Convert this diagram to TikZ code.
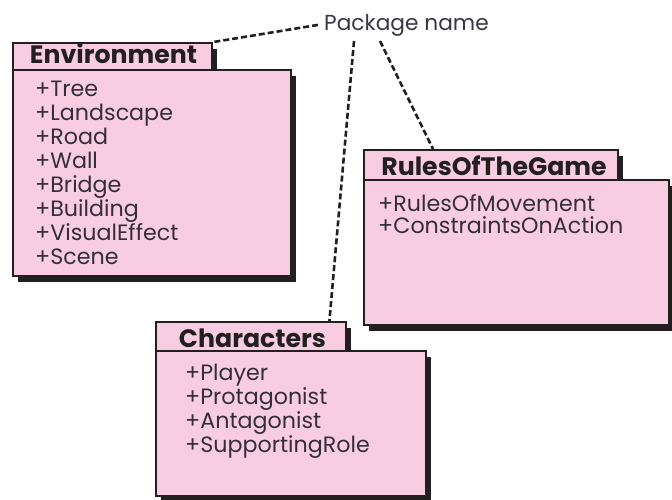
\documentclass[tikz,border=0pt]{standalone}
\usepackage{fontspec}
\setmainfont{Poppins}
\usetikzlibrary{shadows,calc}
\definecolor{pkgpink}{RGB}{249,205,225}
\definecolor{ink}{RGB}{35,31,32}
\definecolor{itemtxt}{RGB}{52,46,60}
\definecolor{labtxt}{RGB}{55,55,70}
\begin{document}
\begin{tikzpicture}[x=1pt,y=-1pt,
  pkgbox/.style={draw=ink, line width=2.4pt, fill=pkgpink, anchor=north west, inner sep=0pt,
    drop shadow={shadow xshift=5pt, shadow yshift=-6pt, fill=ink, opacity=1}},
  pkgtitle/.style={font=\fontsize{25.2}{26}\selectfont\bfseries, text=ink, inner sep=0pt, anchor=base},
  pkgitem/.style={font=\fontsize{22.2}{24}\selectfont, text=itemtxt, inner sep=0pt, anchor=base west},
  link/.style={draw=ink, line width=2.6pt, dash pattern=on 6pt off 3pt}]
\useasboundingbox (0,0) rectangle (672,499);

% Environment
\node[pkgbox, minimum width=199pt, minimum height=27pt] (envtab) at (12,42) {};
\node[pkgbox, minimum width=278pt, minimum height=206pt] (envbody) at (12,69) {};
\node[pkgtitle] (envname) at (113.5,63) {Environment};
\foreach \t [count=\i] in {Tree,Landscape,Road,Wall,Bridge,Building,VisualEffect,Scene}
  \node[pkgitem] (env\i) at (35,{96+24.1*(\i-1)}) {+\t};

% RulesOfTheGame
\node[pkgbox, minimum width=254pt, minimum height=30pt] (rulestab) at (363,149) {};
\node[pkgbox, minimum width=305pt, minimum height=145pt] (rulesbody) at (363,179) {};
\node[pkgtitle] (rulesname) at (494,175) {RulesOfTheGame};
\node[pkgitem] (rules1) at (378,211) {+RulesOfMovement};
\node[pkgitem] (rules2) at (378,233.5) {+ConstraintsOnAction};

% Characters
\node[pkgbox, minimum width=190pt, minimum height=29pt] (chartab) at (155,321) {};
\node[pkgbox, minimum width=270pt, minimum height=145pt] (charbody) at (155,350) {};
\node[pkgtitle] (charname) at (252.5,347) {Characters};
\foreach \t [count=\i] in {Player,Protagonist,Antagonist,SupportingRole}
  \node[pkgitem] (char\i) at (185,{380+24*(\i-1)}) {+\t};

% Package name label and links
\node[font=\fontsize{21.7}{24}\selectfont, text=labtxt, inner sep=0pt, anchor=base west] (pkgname) at (324,30) {Package name};
\coordinate (pn2) at ([shift={(30,5)}]pkgname.south west);
\coordinate (pn3) at ([shift={(56,5)}]pkgname.south west);
\draw[link] ([xshift=-6pt]pkgname.west) -- (envtab.north east);
\draw[link] (pn2) -- ([xshift=-18pt]chartab.north east);
\draw[link] (pn3) -- ([xshift=70pt]rulestab.north west);
\end{tikzpicture}
\end{document}
